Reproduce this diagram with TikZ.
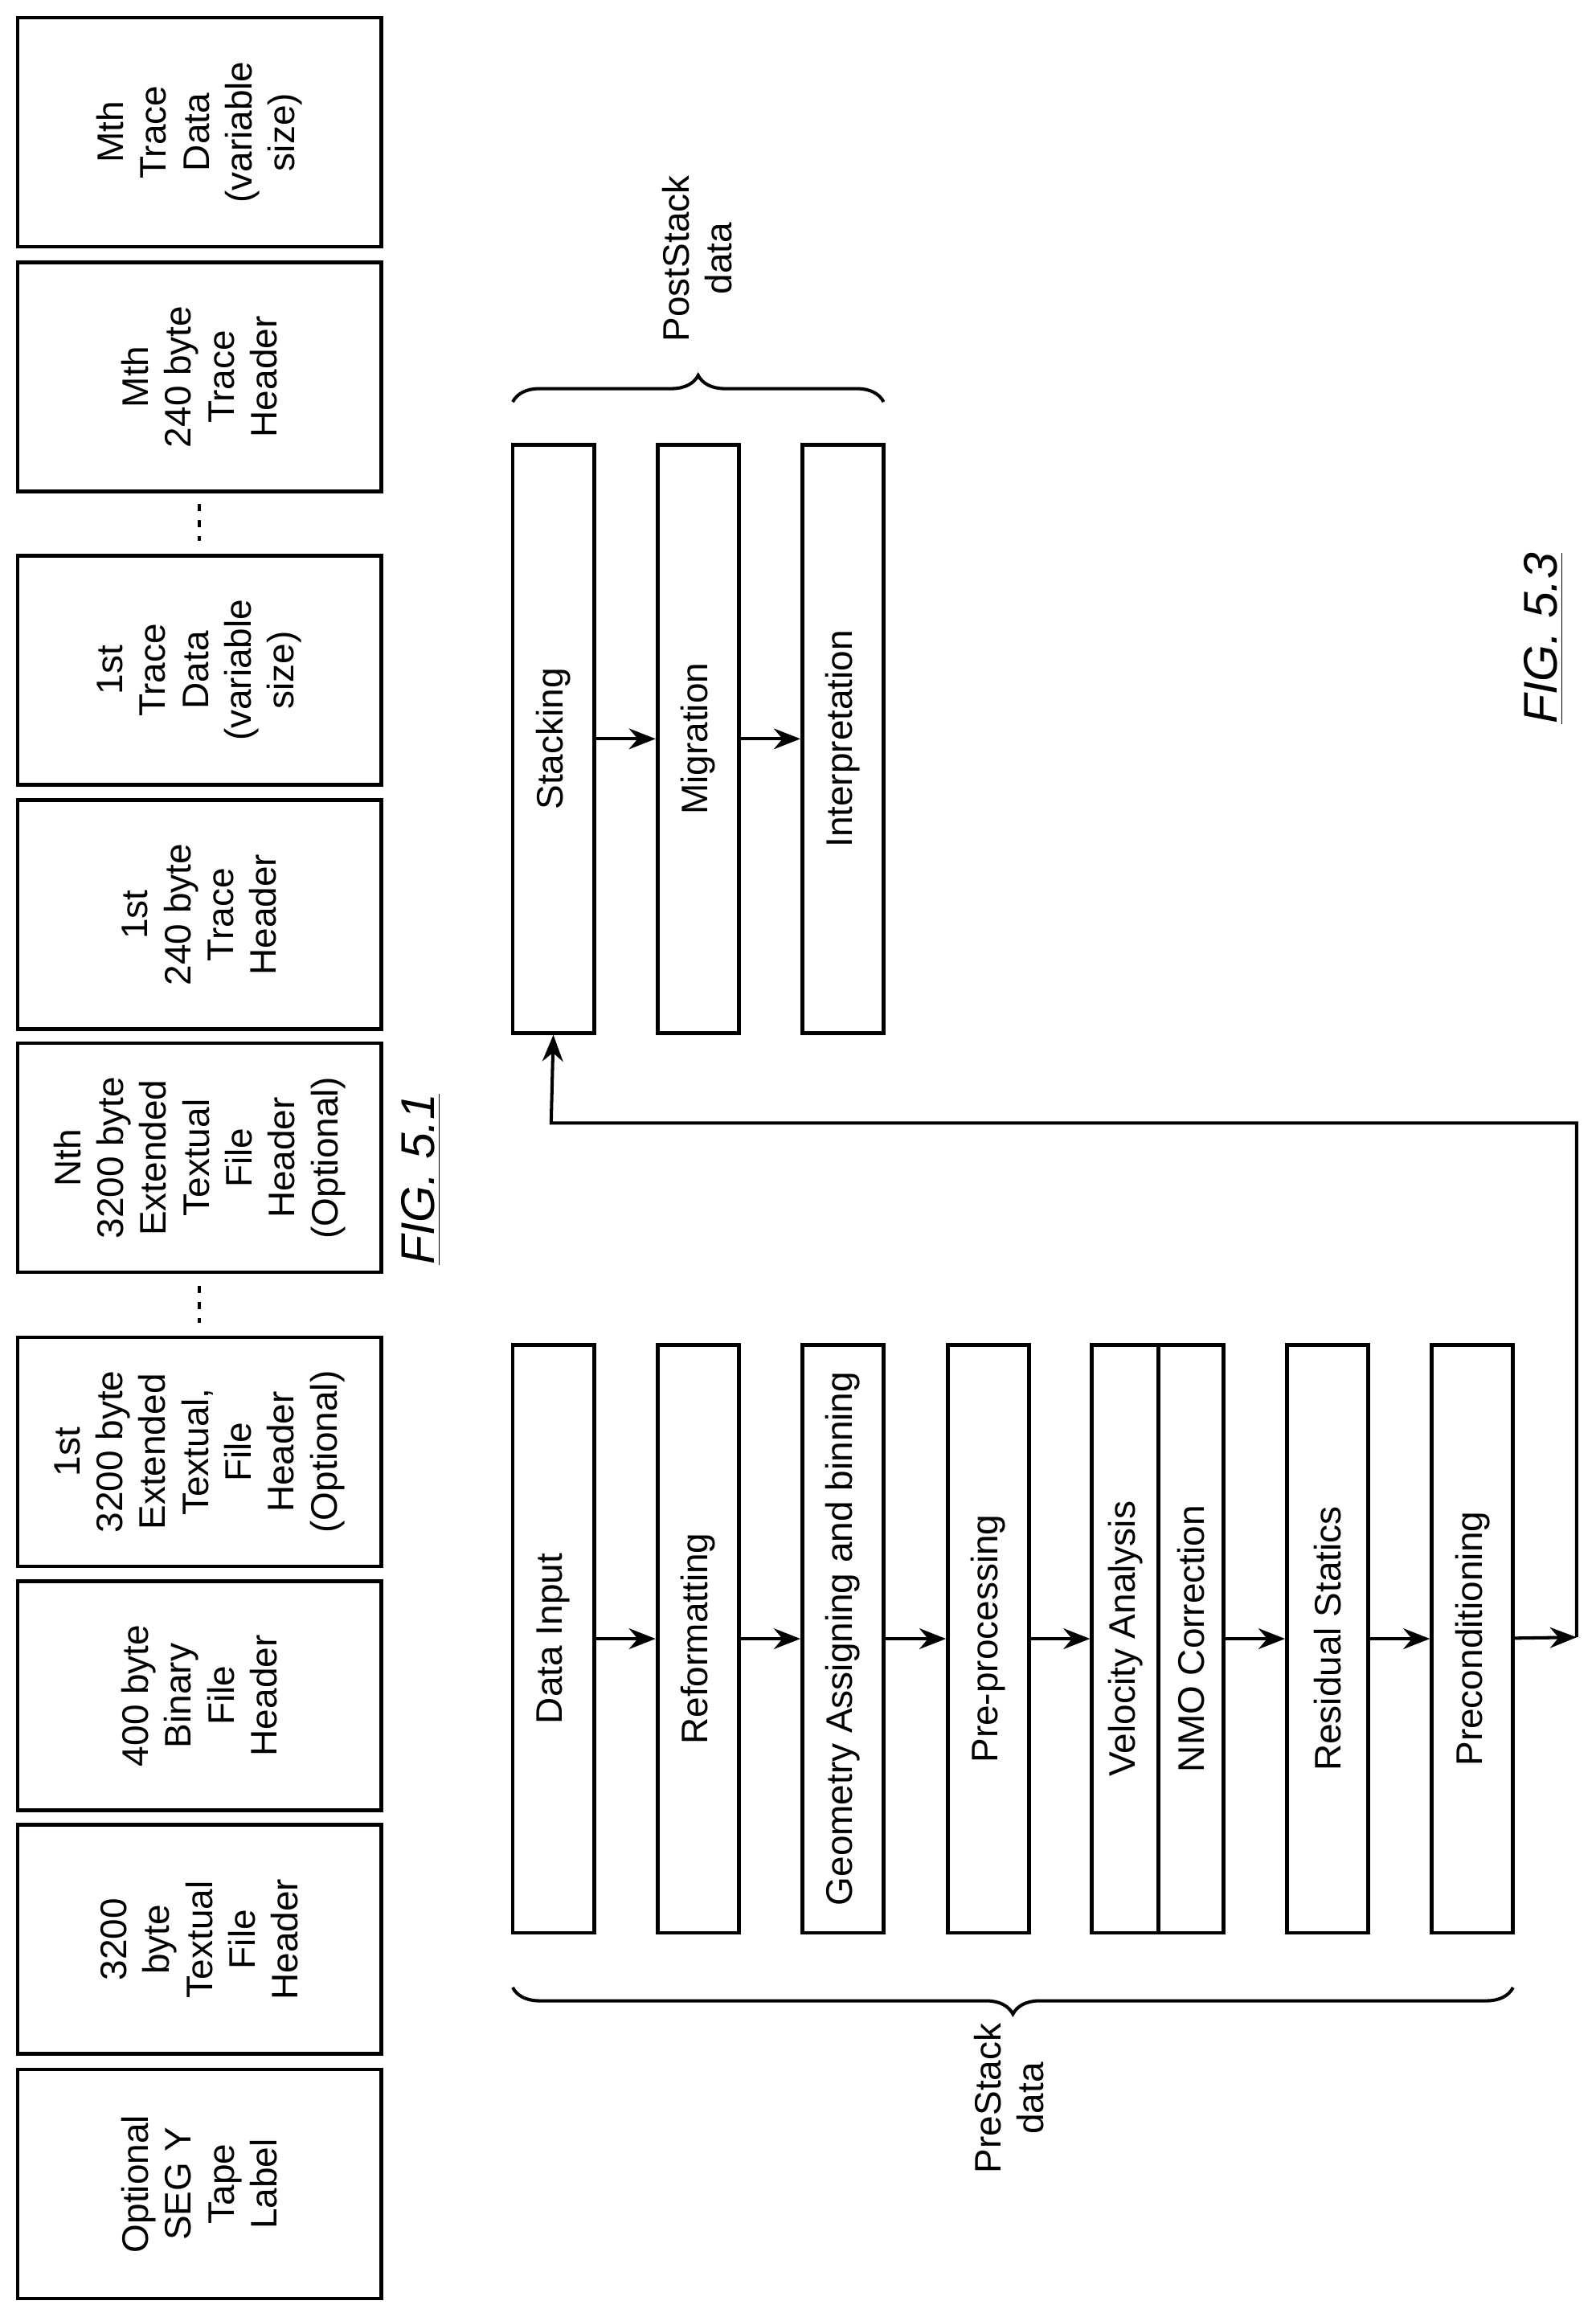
\documentclass[tikz,border=0pt]{standalone}
\usepackage{fontspec}
\setmainfont{Liberation Sans}
\usetikzlibrary{decorations.pathreplacing,arrows.meta}
\tikzset{
  fmt/.style={draw, line width=1.3pt, rotate=90, minimum width=77.5pt, minimum height=123pt, align=center, inner sep=0pt, font=\fontsize{12.5}{14.5}\selectfont},
  stage/.style={draw, line width=1.3pt, rotate=90, minimum width=199pt, minimum height=27.5pt, inner sep=0pt, font=\fontsize{12.5}{14.5}\selectfont},
  flow/.style={-{Stealth[length=9pt,width=7pt]}, line width=1.1pt},
  brc/.style={decorate, decoration={brace, amplitude=9pt}, line width=1.1pt},
  dots/.style={line width=1.1pt, dash pattern=on 2.5pt off 3pt}
}
\begin{document}
\begin{tikzpicture}[x=0.5pt,y=0.5pt,yscale=-1,xscale=1]
\useasboundingbox (0,0) rectangle (1080,1568);

% SEG Y file layout
\node[fmt] (mdata) at (135,89.5) {Mth\\Trace\\Data\\(variable\\size)};
\node[fmt] (mhead) at (135,255) {Mth\\240 byte\\Trace\\Header};
\node[fmt] (odata) at (135,453.5) {1st\\Trace\\Data\\(variable\\size)};
\node[fmt] (ohead) at (135,619) {1st\\240 byte\\Trace\\Header};
\node[fmt] (next) at (135,783.5) {Nth\\3200 byte\\Extended\\Textual\\File\\Header\\(Optional)};
\node[fmt] (oext) at (135,982.5) {1st\\3200 byte\\Extended\\Textual,\\File\\Header\\(Optional)};
\node[fmt] (bin) at (135,1147.5) {400 byte\\Binary\\File\\Header};
\node[fmt] (txt) at (135,1312.5) {3200\\byte\\Textual\\File\\Header};
\node[fmt] (tape) at (135,1478) {Optional\\SEG Y\\Tape\\Label};
\draw[dots] (135,341) -- (135,366);
\draw[dots] (135,870) -- (135,895);
\node[rotate=90, font=\fontsize{16}{18}\selectfont\itshape] (fig1) at (285,798) {\underline{FIG. 5.1}};

% PostStack
\node[stage] (stack) at (374.5,500) {Stacking};
\node[stage] (migr) at (472.5,500) {Migration};
\node[stage] (interp) at (570.5,500) {Interpretation};
\draw[flow] (stack) -- (migr);
\draw[flow] (migr) -- (interp);
\draw[brc] (347,272) -- (598,272);
\node[rotate=90, align=center, font=\fontsize{12.5}{14.5}\selectfont] (post) at (472,175) {PostStack\\data};

% PreStack
\node[stage] (input) at (374.5,1109) {Data Input};
\node[stage] (refmt) at (472.5,1109) {Reformatting};
\node[stage] (geom) at (570.5,1109) {Geometry Assigning and binning};
\node[stage] (prep) at (669,1109) {Pre-processing};
\node[stage, minimum height=22.5pt] (velo) at (761.5,1109) {Velocity Analysis};
\node[stage, minimum height=22pt] (nmo) at (806,1109) {NMO Correction};
\node[stage] (resid) at (898.5,1109) {Residual Statics};
\node[stage] (precon) at (996.5,1109) {Preconditioning};
\draw[flow] (input) -- (refmt);
\draw[flow] (refmt) -- (geom);
\draw[flow] (geom) -- (prep);
\draw[flow] (prep) -- (velo);
\draw[flow] (nmo) -- (resid);
\draw[flow] (resid) -- (precon);
\coordinate (turn) at (1067,1108);
\draw[flow] (precon) -- (turn);
\draw[flow] (turn) -- (1067,760) -- (373,760) -- (stack.west);
\draw[brc] (1024,1345) -- (347,1345);
\node[rotate=90, align=center, font=\fontsize{12.5}{14.5}\selectfont] (pre) at (683,1420) {PreStack\\data};

\node[rotate=90, font=\fontsize{16}{18}\selectfont\itshape] (fig3) at (1045,432) {\underline{FIG. 5.3}};
\end{tikzpicture}
\end{document}
